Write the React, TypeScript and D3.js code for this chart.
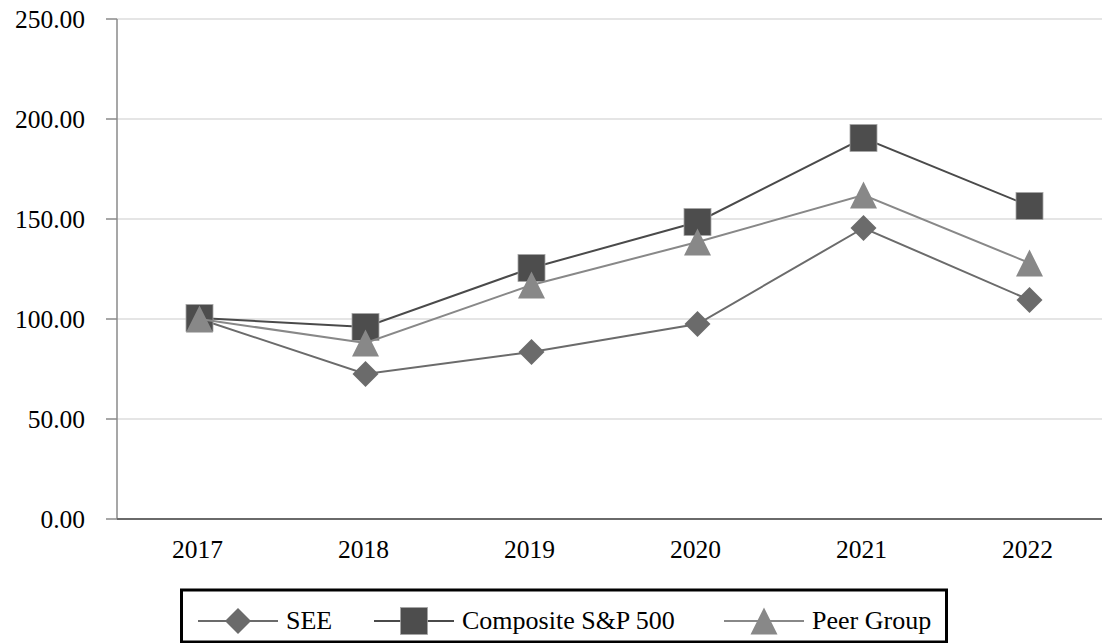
import React from "react";
import * as d3 from "d3";

const years = ["2017", "2018", "2019", "2020", "2021", "2022"];
const seeValues = [100, 72.5, 83.5, 97.5, 145.5, 109.5];
const spValues = [100.5, 96, 125.5, 148.5, 190.5, 156.5];
const peerValues = [100, 88, 117, 138.5, 162, 128];
const yTicks = [0, 50, 100, 150, 200, 250];

const W = 1102;
const H = 643;

type Series = { name: string; values: number[]; line: string; fill: string; shape: "diamond" | "square" | "triangle" };

const series: Series[] = [
  { name: "SEE", values: seeValues, line: "#6b6b6b", fill: "#6b6b6b", shape: "diamond" },
  { name: "Composite S&P 500", values: spValues, line: "#4a4a4a", fill: "#4d4d4d", shape: "square" },
  { name: "Peer Group", values: peerValues, line: "#888888", fill: "#888888", shape: "triangle" },
];

function Marker({ shape, cx, cy, fill }: { shape: string; cx: number; cy: number; fill: string }) {
  if (shape === "square") {
    const s = 27;
    return <rect x={cx - s / 2} y={cy - s / 2} width={s} height={s} fill={fill} stroke="#a6a6a6" strokeWidth={0.8} />;
  }
  if (shape === "diamond") {
    const r = 13;
    return <path d={`M${cx},${cy - r}L${cx + r},${cy}L${cx},${cy + r}L${cx - r},${cy}Z`} fill={fill} />;
  }
  const w = 13.5;
  const h = 13.5;
  return <path d={`M${cx},${cy - h}L${cx + w},${cy + h}L${cx - w},${cy + h}Z`} fill={fill} />;
}

const textStyle: React.CSSProperties = { fontFamily: `"Liberation Serif"` };

export default function App() {
  const x = d3.scalePoint<string>().domain(years).range([116.5, 1112.5]).padding(0.5);
  const y = d3.scaleLinear().domain([0, 250]).range([519, 19]);
  const axisX = 117;

  const lineGen = (vals: number[]) =>
    d3
      .line<number>()
      .x((_, i) => x(years[i]) as number)
      .y((d) => y(d))(vals) as string;

  const legendStarts = [198, 374, 724];

  return (
    <svg width={W} height={H} style={{ position: "fixed", left: 0, top: 0, background: "#fff" }}>
      {/* gridlines */}
      {yTicks.filter((t) => t > 0).map((t) => (
        <line key={t} x1={axisX} x2={W} y1={y(t)} y2={y(t)} stroke="#dcdcdc" strokeWidth={1.5} />
      ))}
      {/* y axis */}
      <line x1={axisX} x2={axisX} y1={y(250)} y2={y(0)} stroke="#8a8a8a" strokeWidth={1.5} />
      {yTicks.map((t) => (
        <g key={t}>
          <line x1={106} x2={axisX} y1={y(t)} y2={y(t)} stroke="#8a8a8a" strokeWidth={1.5} />
          <text x={85} y={y(t) + 9} textAnchor="end" fontSize={25.5} fill="#000" style={textStyle}>
            {t.toFixed(2)}
          </text>
        </g>
      ))}
      {/* x axis */}
      <line x1={axisX} x2={W} y1={y(0)} y2={y(0)} stroke="#6a6a6a" strokeWidth={2} />
      {years.map((yr) => (
        <text key={yr} x={(x(yr) as number) - 2} y={558} textAnchor="middle" fontSize={25.5} fill="#000" style={textStyle}>
          {yr}
        </text>
      ))}
      {/* series */}
      {series.map((s) => (
        <g key={s.name}>
          <path d={lineGen(s.values)} fill="none" stroke={s.line} strokeWidth={2} />
          {s.values.map((v, i) => (
            <Marker key={i} shape={s.shape} cx={x(years[i]) as number} cy={y(v)} fill={s.fill} />
          ))}
        </g>
      ))}
      {/* legend */}
      <rect x={181.5} y={590} width={765} height={52} fill="#fff" stroke="#000" strokeWidth={3} />
      {series.map((s, i) => {
        const sx = legendStarts[i];
        return (
          <g key={s.name}>
            <line x1={sx} x2={sx + 80} y1={621} y2={621} stroke={s.line} strokeWidth={2} />
            <Marker shape={s.shape} cx={sx + 40} cy={621} fill={s.fill} />
            <text x={sx + 88} y={629} fontSize={26} fill="#000" style={textStyle}>
              {s.name}
            </text>
          </g>
        );
      })}
    </svg>
  );
}
